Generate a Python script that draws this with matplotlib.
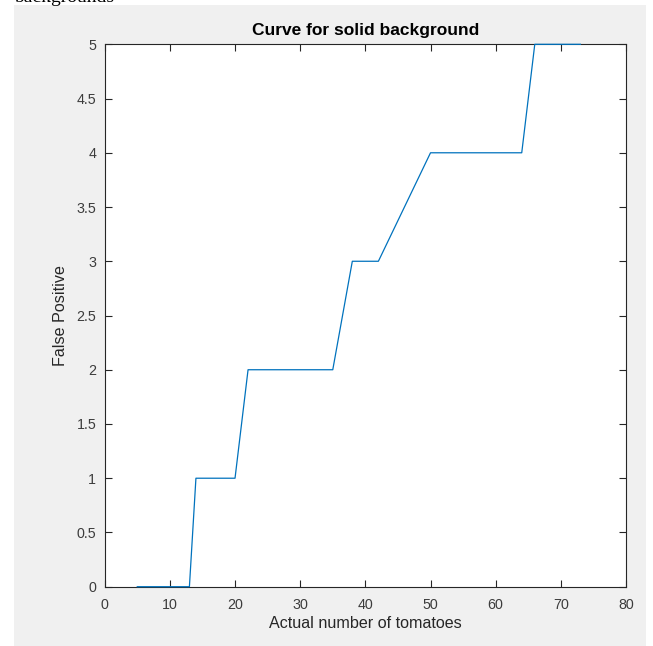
import matplotlib
matplotlib.use("Agg")
import matplotlib.pyplot as plt
from matplotlib.patches import Rectangle

# Data
actual_tomatoes = [5, 13, 14, 20, 22, 35, 38, 42, 50, 64, 66, 73]
false_positive = [0, 0, 1, 1, 2, 2, 3, 3, 4, 4, 5, 5]
x_ticks = [0, 10, 20, 30, 40, 50, 60, 70, 80]
y_ticks = [0, 0.5, 1, 1.5, 2, 2.5, 3, 3.5, 4, 4.5, 5]
y_tick_labels = ["0", "0.5", "1", "1.5", "2", "2.5", "3", "3.5", "4", "4.5", "5"]

plt.rcParams['font.family'] = ['Liberation Sans', 'DejaVu Sans']

W, H = 653, 646
fig = plt.figure(figsize=(W / 100, H / 100), dpi=100, facecolor='white')

# grey MATLAB figure panel (behind the axes)
fig.patches.append(Rectangle((14 / W, 0), (646 - 14) / W, (646 - 5) / H,
                             transform=fig.transFigure, facecolor='#f0f0f0',
                             edgecolor='none', zorder=-10))
# clipped caption text from the document above the figure
fig.text(14 / W, 1 - 2 / H, "backgrounds", family=['Liberation Serif', 'DejaVu Serif'],
         fontsize=14, va='baseline', ha='left', color='black')

ax = fig.add_axes([104.7 / W, 59.3 / H, (626 - 104.7) / W, (601.7 - 59.3) / H])
ax.set_zorder(5)
ax.set_facecolor('white')
ax.plot(actual_tomatoes, false_positive, color='#0072BD', lw=0.9, clip_on=False,
        zorder=3)

ax.set_xlim(0, 80)
ax.set_ylim(0, 5)
ax.set_xticks(x_ticks)
ax.set_yticks(y_ticks)
ax.set_yticklabels(y_tick_labels)

axcol = '#262626'
for s in ax.spines.values():
    s.set_color(axcol)
    s.set_linewidth(0.8)
    s.set_zorder(2)
ax.tick_params(direction='in', length=5, width=0.8, color=axcol,
               labelcolor='#3c3c3c', labelsize=10.3, top=True, right=True,
               pad=6)
ax.tick_params(axis='x', pad=8)

ax.set_title("Curve for solid background", fontsize=12.5, fontweight='bold',
             color='black', pad=7)
ax.set_xlabel("Actual number of tomatoes", fontsize=11.6, color='#262626', labelpad=3)
ax.set_ylabel("False Positive", fontsize=11.6, color='#262626', labelpad=6)

fig.savefig("out.png", dpi=100, facecolor='white')
